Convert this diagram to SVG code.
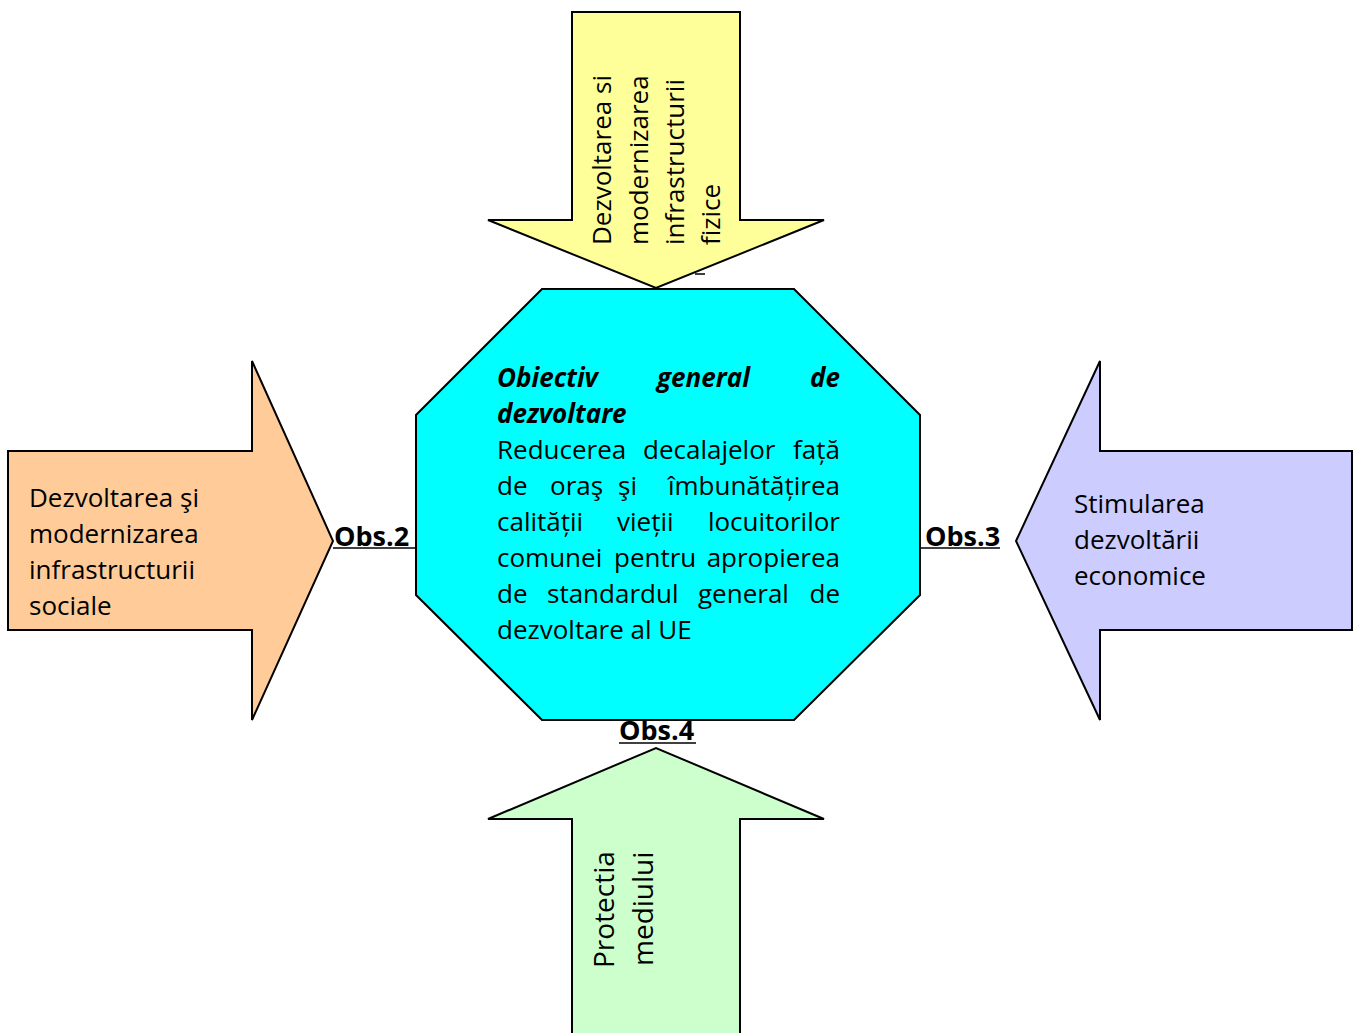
<svg xmlns="http://www.w3.org/2000/svg" width="1358" height="1033" viewBox="0 0 1358 1033">
<style>
.shape{stroke:#000;stroke-width:2;stroke-linejoin:miter}
.t{font-family:"Open Sans","Liberation Sans",sans-serif;font-size:26px;fill:#000}
.bi{font-weight:bold;font-style:italic}
.big{font-size:28px}
.obs{font-family:"Open Sans","Liberation Sans",sans-serif;font-size:27px;font-weight:bold;fill:#000}
.ln{stroke:#000;stroke-width:1.5;fill:none}
</style>
<rect width="1358" height="1033" fill="#fff"/>
<g id="top-arrow">
<polygon class="shape" fill="#FFFF99" points="572,12 740,12 740,220 824,220 656,288 488,220 572,220"/>
<text class="t" transform="translate(611,245) rotate(-90)">Dezvoltarea si</text>
<text class="t" transform="translate(648,245) rotate(-90)">modernizarea</text>
<text class="t" transform="translate(684,245) rotate(-90)">infrastructurii</text>
<text class="t" transform="translate(720,245) rotate(-90)">fizice</text>
</g>
<g id="center">
<polygon class="shape" fill="#00FFFF" points="542,289 794,289 920,415 920,595 794,720 542,720 416,595 416,415"/>
<text class="t bi" x="497" y="387">Obiectiv</text>
<text class="t bi" x="657" y="387">general</text>
<text class="t bi" x="840" y="387" text-anchor="end">de</text>
<text class="t bi" x="497" y="423">dezvoltare</text>
<text class="t" x="497" y="459">Reducerea</text>
<text class="t" x="643" y="459">decalajelor</text>
<text class="t" x="840" y="459" text-anchor="end">față</text>
<text class="t" x="497" y="495">de</text>
<text class="t" x="550" y="495">oraş</text>
<text class="t" x="618" y="495">şi</text>
<text class="t" x="840" y="495" text-anchor="end">îmbunătățirea</text>
<text class="t" x="497" y="531">calității</text>
<text class="t" x="617" y="531">vieții</text>
<text class="t" x="840" y="531" text-anchor="end">locuitorilor</text>
<text class="t" x="497" y="567">comunei</text>
<text class="t" x="614" y="567">pentru</text>
<text class="t" x="840" y="567" text-anchor="end">apropierea</text>
<text class="t" x="497" y="603">de</text>
<text class="t" x="547" y="603">standardul</text>
<text class="t" x="698" y="603">general</text>
<text class="t" x="840" y="603" text-anchor="end">de</text>
<text class="t" x="497" y="639">dezvoltare al UE</text>
</g>
<g id="left-arrow">
<polygon class="shape" fill="#FFCC99" points="8,451 252,451 252,361 333,541 252,720 252,630 8,630"/>
<text class="t" x="29" y="507">Dezvoltarea şi</text>
<text class="t" x="29" y="543">modernizarea</text>
<text class="t" x="29" y="579">infrastructurii</text>
<text class="t" x="29" y="615">sociale</text>
</g>
<g id="right-arrow">
<polygon class="shape" fill="#CCCCFF" points="1352,451 1100,451 1100,361 1016,541 1100,720 1100,630 1352,630"/>
<text class="t" x="1074" y="513">Stimularea</text>
<text class="t" x="1074" y="549">dezvoltării</text>
<text class="t" x="1074" y="585">economice</text>
</g>
<g id="bottom-arrow">
<polygon class="shape" fill="#CCFFCC" points="572,1040 572,819 488,819 656,748 824,819 740,819 740,1040"/>
<text class="t big" transform="translate(614,968) rotate(-90)">Protectia</text>
<text class="t big" transform="translate(653,966) rotate(-90)">mediului</text>
</g>
<g id="connectors">
<line class="ln" x1="333" y1="548" x2="416" y2="548"/>
<line class="ln" x1="920" y1="548" x2="1000" y2="548"/>
<line class="ln" x1="619" y1="743" x2="696" y2="743"/>
<line class="ln" x1="695" y1="274" x2="705" y2="274"/>
</g>
<g id="labels">
<text class="obs" x="334" y="546">Obs.2</text>
<text class="obs" x="925" y="546">Obs.3</text>
<text class="obs" x="619" y="740">Obs.4</text>
</g>
</svg>
